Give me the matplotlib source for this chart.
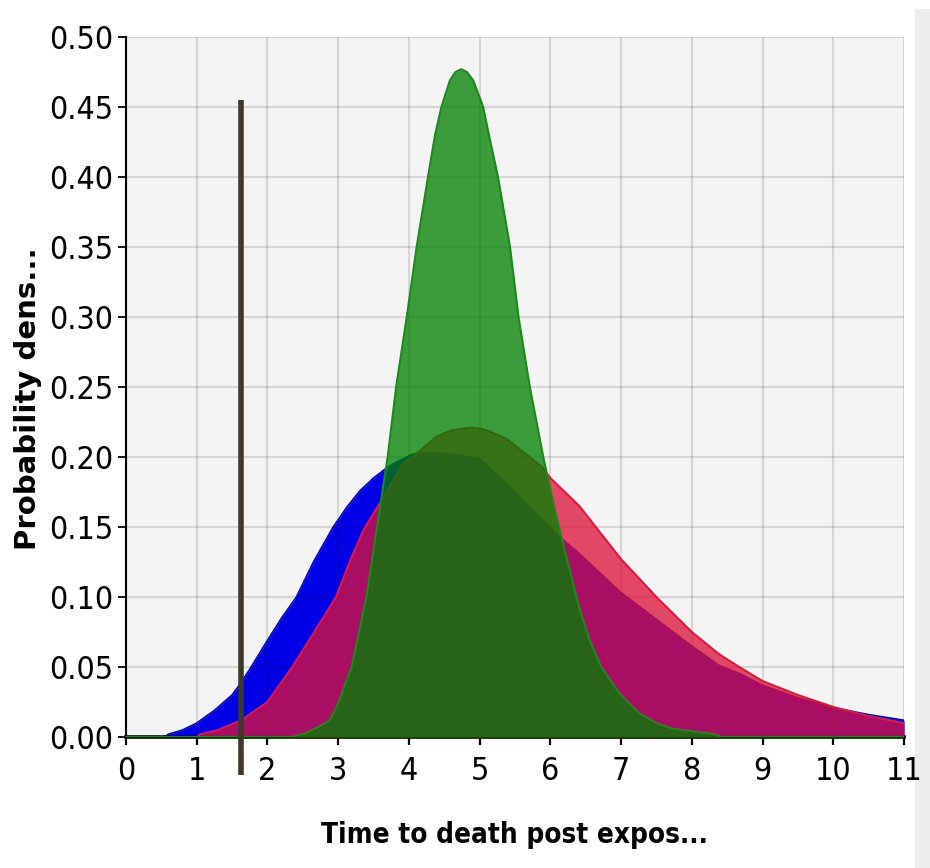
import matplotlib
matplotlib.use("Agg")
import matplotlib.pyplot as plt
from matplotlib import font_manager
from matplotlib.patches import Rectangle

# curves (x in time units, y = density)
blue_x = [0.55, 0.6, 0.8, 1.0, 1.25, 1.5, 1.63, 1.77, 2.0, 2.2, 2.41, 2.65, 2.93, 3.12,
          3.31, 3.5, 3.68, 3.85, 4.05, 4.34, 4.6, 5.0, 5.38, 5.85, 6.13, 6.41, 6.98,
          7.5, 8.0, 8.39, 8.67, 9.0, 9.5, 10.0, 10.5, 11.0]
blue_y = [0.0, 0.002, 0.005, 0.010, 0.019, 0.030, 0.039, 0.050, 0.069, 0.085, 0.100,
          0.125, 0.150, 0.164, 0.176, 0.185, 0.192, 0.197, 0.202, 0.203, 0.202, 0.199,
          0.181, 0.157, 0.143, 0.131, 0.104, 0.084, 0.065, 0.051, 0.0455, 0.037,
          0.028, 0.021, 0.016, 0.012]

red_x = [1.0, 1.05, 1.3, 1.63, 2.0, 2.35, 2.65, 2.97, 3.17, 3.36, 3.6, 3.92, 4.05,
         4.39, 4.6, 4.86, 5.0, 5.15, 5.38, 5.88, 6.0, 6.41, 7.0, 7.5, 8.0, 8.39,
         8.67, 9.0, 9.5, 10.0, 10.5, 11.0]
red_y = [0.0, 0.002, 0.005, 0.012, 0.025, 0.050, 0.074, 0.100, 0.126, 0.148, 0.168,
         0.1955, 0.200, 0.2145, 0.219, 0.221, 0.2205, 0.218, 0.213, 0.193, 0.185,
         0.165, 0.127, 0.100, 0.075, 0.059, 0.050, 0.040, 0.030, 0.0215, 0.015, 0.010]

green_x = [0.0, 2.34, 2.55, 2.75, 2.88, 3.0, 3.19, 3.40, 3.55, 3.70, 3.82, 3.97, 4.11,
           4.27, 4.37, 4.46, 4.58, 4.66, 4.74, 4.82, 4.91, 5.05, 5.14, 5.26, 5.43,
           5.55, 5.71, 5.90, 6.05, 6.18, 6.41, 6.55, 6.72, 6.98, 7.26, 7.5, 7.73,
           8.34, 8.4, 11.0]
green_y = [0.0, 0.0, 0.003, 0.008, 0.012, 0.024, 0.050, 0.100, 0.150, 0.200, 0.250,
           0.300, 0.350, 0.400, 0.430, 0.450, 0.469, 0.475, 0.477, 0.475, 0.469,
           0.450, 0.428, 0.400, 0.350, 0.300, 0.250, 0.200, 0.165, 0.138, 0.092,
           0.070, 0.050, 0.031, 0.017, 0.010, 0.006, 0.002, 0.0, 0.0]

marker_x = 1.62
marker_top = 0.455
marker_bottom = -0.027

x_ticks = list(range(0, 12))
y_ticks = [0.0, 0.05, 0.10, 0.15, 0.20, 0.25, 0.30, 0.35, 0.40, 0.45, 0.50]

x_label = "Time to death post expos..."
y_label = "Probability dens..."

names = {f.name for f in font_manager.fontManager.ttflist}
if "Liberation Sans Narrow" in names:
    tick_font = dict(family="Liberation Sans Narrow", size=27)
    xlab_font = dict(family="Liberation Sans Narrow", size=24, weight="bold")
else:
    tick_font = dict(family="DejaVu Sans", stretch="condensed", size=23)
    xlab_font = dict(family="DejaVu Sans", stretch="condensed", size=20, weight="bold")

fig = plt.figure(figsize=(9.3, 8.68), dpi=100)
fig.patch.set_facecolor("white")
fig.patches.append(Rectangle((0.984, 0.0), 0.016, 0.99, transform=fig.transFigure,
                             facecolor="#ededed", edgecolor="none", zorder=-1))

ax = fig.add_axes([0.1354, 0.1509, 0.8367, 0.8065])
ax.set_facecolor("#f4f4f4")

ax.fill_between(blue_x, blue_y, 0, color="#0000e6", linewidth=0, zorder=2)
ax.plot(blue_x, blue_y, color="#0000d8", lw=1.2, zorder=2)

ax.fill_between(red_x, red_y, 0, color="#dc143c", alpha=0.77, linewidth=0, zorder=3)
ax.plot(red_x, red_y, color="#e8143c", lw=1.5, zorder=3)

ax.fill_between(green_x, green_y, 0, color="#008000", alpha=0.76, linewidth=0, zorder=4)
ax.plot(green_x, green_y, color="#1a8a1a", lw=1.5, zorder=4)

ax.grid(True, color="black", alpha=0.12, linewidth=1.6, zorder=5)
ax.set_axisbelow(False)

ax.plot([marker_x, marker_x], [marker_bottom, marker_top], color="#3c382c",
        lw=4, solid_capstyle="butt", zorder=6, clip_on=False)

ax.set_xlim(0, 11)
ax.set_ylim(0, 0.5)
ax.set_xticks(x_ticks)
ax.set_yticks(y_ticks)
ax.set_xticklabels([str(t) for t in x_ticks], fontdict=tick_font)
ax.set_yticklabels([f"{t:.2f}" for t in y_ticks], fontdict=tick_font)

for s in ["top", "right"]:
    ax.spines[s].set_visible(False)
ax.spines["left"].set_linewidth(1.5)
ax.spines["bottom"].set_linewidth(2.6)
ax.tick_params(axis="y", length=6, width=1.3, pad=3)
ax.tick_params(axis="x", length=6, width=1.6, pad=8)

ax.set_xlabel(x_label, fontdict=xlab_font, labelpad=24)
ax.set_ylabel(y_label, family="DejaVu Sans", size=21, weight="bold")
ax.yaxis.set_label_coords(-0.108, 0.483)

fig.savefig("out.png", dpi=100)
